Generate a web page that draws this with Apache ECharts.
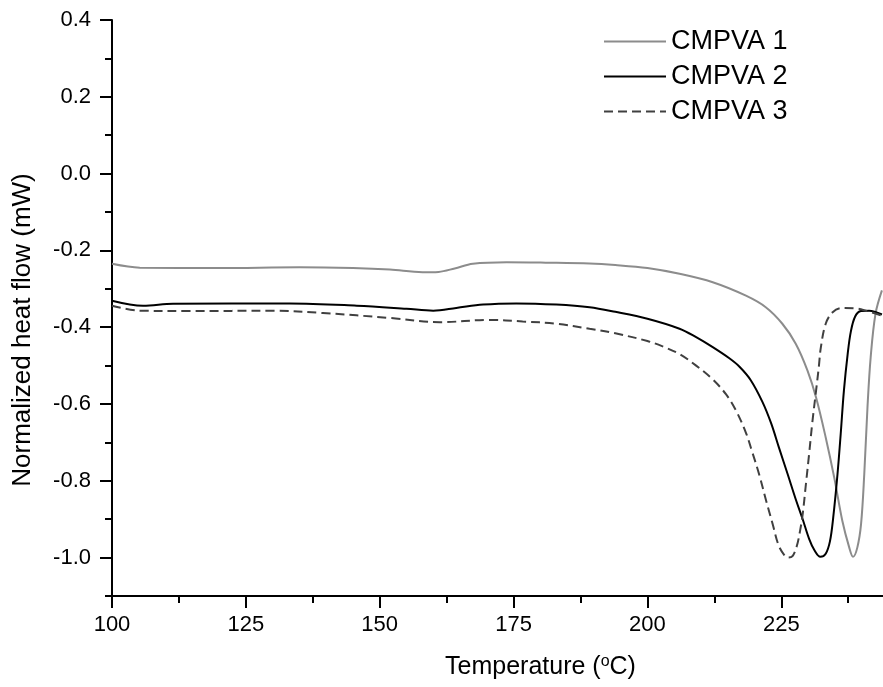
<!DOCTYPE html>
<html>
<head>
<meta charset="utf-8">
<script src="https://cdn.jsdelivr.net/npm/echarts@6/dist/echarts.min.js"></script>
<style>
  html, body { margin: 0; padding: 0; background: #fff; }
  #chart { width: 883px; height: 687px; }
</style>
</head>
<body>
<div id="chart"></div>
<script>
// DSC traces: temperature (°C) and normalized heat flow (mW)
const seriesNames = ['CMPVA 1', 'CMPVA 2', 'CMPVA 3'];

const temp1 = [100, 105.2, 120, 135, 145, 151.9, 158, 161, 164, 167.4, 173.7, 181, 189.2, 194, 200, 206.0, 212.2, 218.4, 222.1, 225.2, 227.7, 229.9, 231.5, 233.3, 234.9, 236.4, 237.7, 238.4, 239.2, 239.9, 240.5, 241.1, 241.7, 242.6, 243.8];
const heat1 = [-0.235, -0.245, -0.246, -0.244, -0.246, -0.25, -0.257, -0.256, -0.247, -0.235, -0.231, -0.232, -0.234, -0.238, -0.246, -0.261, -0.283, -0.318, -0.348, -0.391, -0.443, -0.513, -0.583, -0.687, -0.792, -0.904, -0.974, -0.998, -0.974, -0.913, -0.783, -0.609, -0.478, -0.365, -0.304];

const temp2 = [100, 105.8, 111.4, 133.2, 145.7, 155, 160, 164.3, 169.3, 175.5, 183, 189.2, 194, 200, 206.0, 209.1, 212.2, 215.3, 217.2, 219.3, 221.5, 223.1, 224.6, 226.2, 227.7, 229.0, 230.2, 231.2, 232.3, 233.3, 234.1, 234.7, 235.5, 236.1, 236.7, 237.4, 238.0, 238.8, 239.9, 241.4, 243.8];
const heat2 = [-0.331, -0.344, -0.339, -0.338, -0.344, -0.352, -0.357, -0.35, -0.341, -0.338, -0.341, -0.348, -0.36, -0.378, -0.404, -0.426, -0.452, -0.481, -0.503, -0.538, -0.595, -0.65, -0.715, -0.783, -0.848, -0.9, -0.951, -0.981, -0.998, -0.99, -0.957, -0.896, -0.783, -0.678, -0.565, -0.47, -0.411, -0.372, -0.358, -0.357, -0.367];

const temp3 = [100, 105.2, 114.6, 130.1, 139.4, 151.9, 161.2, 170.5, 176.7, 183, 189.2, 194, 200, 203, 206.0, 209.1, 212.2, 214.7, 216.5, 218.4, 219.6, 220.9, 222.1, 223.4, 224.5, 225.6, 226.3, 227.1, 227.9, 228.5, 229.0, 229.6, 230.2, 230.8, 231.5, 232.0, 232.4, 233.3, 234.6, 236.4, 238.9, 240.8, 243.8];
const heat3 = [-0.344, -0.357, -0.358, -0.357, -0.363, -0.376, -0.387, -0.381, -0.385, -0.391, -0.404, -0.416, -0.436, -0.451, -0.47, -0.5, -0.536, -0.575, -0.616, -0.675, -0.726, -0.785, -0.848, -0.913, -0.968, -0.994, -1.0, -0.996, -0.97, -0.931, -0.887, -0.809, -0.73, -0.648, -0.565, -0.505, -0.452, -0.391, -0.361, -0.35, -0.351, -0.357, -0.37];

// Axis ticks
const xMajorTicks = [100, 125, 150, 175, 200, 225];
const xMinorTicks = [112.5, 137.5, 162.5, 187.5, 212.5, 237.5];
const yMajorTicks = [-1.0, -0.8, -0.6, -0.4, -0.2, 0.0, 0.2, 0.4];
const yMinorTicks = [-1.1, -0.9, -0.7, -0.5, -0.3, -0.1, 0.1, 0.3];

const zip = (xs, ys) => xs.map((x, i) => [x, ys[i]]);

const FONT = '"Liberation Sans", Arial, sans-serif';
const AXIS_COLOR = '#000';
const SMOOTH = 0.35;

const chart = echarts.init(document.getElementById('chart'), null, { renderer: 'canvas' });

const xBase = { type: 'value', min: 100, max: 244, position: 'bottom', splitLine: { show: false } };
const yBase = { type: 'value', min: -1.1, max: 0.4, position: 'left', splitLine: { show: false } };

chart.setOption({
  animation: false,
  backgroundColor: '#fff',
  grid: { left: 112, top: 20, right: 0, bottom: 91, containLabel: false },
  legend: {
    orient: 'vertical',
    left: 598,
    top: 23,
    itemWidth: 62,
    itemHeight: 14,
    itemGap: 8,
    data: seriesNames,
    itemStyle: { opacity: 0 },
    textStyle: { fontFamily: FONT, fontSize: 27, color: '#000', lineHeight: 26 }
  },
  xAxis: [
    Object.assign({}, xBase, {
      name: 'Temperature ({sup|o}C)',
      nameLocation: 'middle',
      nameGap: 58,
      nameTextStyle: {
        fontFamily: FONT, fontSize: 25, color: '#000', lineHeight: 26,
        padding: [0, 0, 0, 86],
        rich: { sup: { fontFamily: FONT, fontSize: 16, color: '#000', verticalAlign: 'top', lineHeight: 26 } }
      },
      axisLine: { show: true, onZero: false, lineStyle: { color: AXIS_COLOR, width: 2 } },
      axisTick: { show: true, inside: false, length: 12, customValues: xMajorTicks, lineStyle: { color: AXIS_COLOR, width: 2 } },
      axisLabel: { show: true, margin: 18, customValues: xMajorTicks, fontFamily: FONT, fontSize: 22, color: '#000' }
    }),
    Object.assign({}, xBase, {
      axisLine: { show: false, onZero: false },
      axisTick: { show: true, inside: false, length: 7, customValues: xMinorTicks, lineStyle: { color: AXIS_COLOR, width: 2 } },
      axisLabel: { show: false }
    })
  ],
  yAxis: [
    Object.assign({}, yBase, {
      name: 'Normalized heat flow (mW)',
      nameLocation: 'middle',
      nameRotate: 90,
      nameGap: 76,
      nameTextStyle: { fontFamily: FONT, fontSize: 26, color: '#000', padding: [0, 44, 0, 0] },
      axisLine: { show: true, onZero: false, lineStyle: { color: AXIS_COLOR, width: 2 } },
      axisTick: { show: true, inside: false, length: 12, customValues: yMajorTicks, lineStyle: { color: AXIS_COLOR, width: 2 } },
      axisLabel: {
        show: true, margin: 21, customValues: yMajorTicks,
        fontFamily: FONT, fontSize: 22, color: '#000',
        formatter: v => Number(v).toFixed(1)
      }
    }),
    Object.assign({}, yBase, {
      offset: 0,
      axisLine: { show: false, onZero: false },
      axisTick: { show: true, inside: false, length: 7, customValues: yMinorTicks, lineStyle: { color: AXIS_COLOR, width: 2 } },
      axisLabel: { show: false }
    })
  ],
  series: [
    {
      name: seriesNames[0], type: 'line', xAxisIndex: 0, yAxisIndex: 0,
      data: zip(temp1, heat1), smooth: SMOOTH, showSymbol: false, symbol: 'none',
      lineStyle: { color: '#8c8c8c', width: 2 }, itemStyle: { color: '#8c8c8c' }
    },
    {
      name: seriesNames[1], type: 'line', xAxisIndex: 0, yAxisIndex: 0,
      data: zip(temp2, heat2), smooth: SMOOTH, showSymbol: false, symbol: 'none',
      lineStyle: { color: '#000000', width: 2 }, itemStyle: { color: '#000000' }
    },
    {
      name: seriesNames[2], type: 'line', xAxisIndex: 0, yAxisIndex: 0,
      data: zip(temp3, heat3), smooth: SMOOTH, showSymbol: false, symbol: 'none',
      lineStyle: { color: '#404040', width: 2, type: [9, 5] }, itemStyle: { color: '#404040' }
    }
  ]
});
</script>
</body>
</html>
